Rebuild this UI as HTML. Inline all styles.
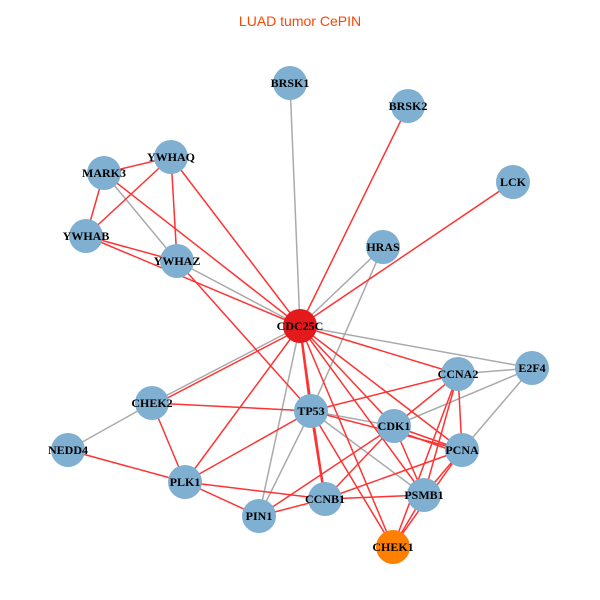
<!DOCTYPE html>
<html><head><meta charset="utf-8"><style>
body{margin:0;background:#fff}
svg{display:block}
text{font-family:"Liberation Serif",serif;font-weight:bold;font-size:12px;text-anchor:middle;dominant-baseline:central;fill:#000}
</style></head><body>
<svg width="600" height="600" xmlns="http://www.w3.org/2000/svg">
<rect width="600" height="600" fill="#fff"/>
<text x="300" y="21" style="font-family:'Liberation Sans',sans-serif;font-weight:normal;font-size:14px;fill:#ff4500">LUAD tumor CePIN</text>
<g stroke="#aaaaaa" stroke-width="1.5">
<line x1="290" y1="83" x2="300" y2="326"/>
<line x1="104" y1="173" x2="177" y2="261"/>
<line x1="177" y1="261" x2="300" y2="326"/>
<line x1="383" y1="247" x2="300" y2="326"/>
<line x1="383" y1="247" x2="311" y2="411"/>
<line x1="300" y1="326" x2="532" y2="368"/>
<line x1="300" y1="326" x2="152" y2="403"/>
<line x1="300" y1="326" x2="259" y2="516"/>
<line x1="458" y1="374" x2="532" y2="368"/>
<line x1="532" y1="368" x2="394" y2="426"/>
<line x1="532" y1="368" x2="462" y2="450"/>
<line x1="311" y1="411" x2="394" y2="426"/>
<line x1="311" y1="411" x2="424" y2="495"/>
<line x1="311" y1="411" x2="259" y2="516"/>
<line x1="152" y1="403" x2="68" y2="450"/>
</g>
<g stroke="#ff3333" stroke-width="1.5">
<line x1="104" y1="173" x2="171" y2="157"/>
<line x1="104" y1="173" x2="86" y2="236"/>
<line x1="104" y1="173" x2="300" y2="326"/>
<line x1="171" y1="157" x2="86" y2="236"/>
<line x1="171" y1="157" x2="177" y2="261"/>
<line x1="171" y1="157" x2="300" y2="326"/>
<line x1="86" y1="236" x2="177" y2="261"/>
<line x1="86" y1="236" x2="300" y2="326"/>
<line x1="177" y1="261" x2="311" y2="411"/>
<line x1="408" y1="106" x2="300" y2="326"/>
<line x1="513" y1="182" x2="300" y2="326"/>
<line x1="300" y1="326" x2="458" y2="374"/>
<line x1="300" y1="329" x2="152" y2="406"/>
<line x1="300" y1="326" x2="185" y2="482"/>
<line x1="300" y1="326" x2="311" y2="411" stroke-width="2.5"/>
<line x1="300" y1="326" x2="394" y2="426"/>
<line x1="300" y1="326" x2="462" y2="450"/>
<line x1="300" y1="326" x2="424" y2="495"/>
<line x1="300" y1="326" x2="393" y2="547"/>
<line x1="300" y1="326" x2="325" y2="499"/>
<line x1="458" y1="374" x2="311" y2="411"/>
<line x1="458" y1="374" x2="394" y2="426"/>
<line x1="458" y1="374" x2="462" y2="450"/>
<line x1="458" y1="374" x2="424" y2="495"/>
<line x1="458" y1="374" x2="393" y2="547"/>
<line x1="311" y1="411" x2="462" y2="450"/>
<line x1="311" y1="411" x2="325" y2="499" stroke-width="2.5"/>
<line x1="311" y1="411" x2="393" y2="547"/>
<line x1="311" y1="411" x2="185" y2="482"/>
<line x1="311" y1="411" x2="152" y2="403"/>
<line x1="394" y1="426" x2="462" y2="450"/>
<line x1="394" y1="430" x2="462" y2="454"/>
<line x1="394" y1="426" x2="259" y2="516"/>
<line x1="394" y1="426" x2="325" y2="499"/>
<line x1="394" y1="426" x2="424" y2="495"/>
<line x1="462" y1="450" x2="325" y2="499"/>
<line x1="462" y1="450" x2="424" y2="495"/>
<line x1="462" y1="450" x2="393" y2="547"/>
<line x1="424" y1="495" x2="325" y2="499"/>
<line x1="424" y1="495" x2="393" y2="547"/>
<line x1="325" y1="499" x2="259" y2="516"/>
<line x1="325" y1="499" x2="185" y2="482"/>
<line x1="185" y1="482" x2="259" y2="516"/>
<line x1="185" y1="482" x2="152" y2="403"/>
<line x1="185" y1="482" x2="68" y2="450"/>
</g>
<g fill="#7fafd1">
<circle cx="290" cy="83" r="17"/><circle cx="408" cy="106" r="17"/><circle cx="513" cy="182" r="17"/>
<circle cx="171" cy="157" r="17"/><circle cx="104" cy="173" r="17"/><circle cx="86" cy="236" r="17"/>
<circle cx="177" cy="261" r="17"/><circle cx="383" cy="247" r="17"/><circle cx="532" cy="368" r="17"/>
<circle cx="458" cy="374" r="17"/><circle cx="152" cy="403" r="17"/><circle cx="311" cy="411" r="17"/>
<circle cx="394" cy="426" r="17"/><circle cx="68" cy="450" r="17"/><circle cx="462" cy="450" r="17"/>
<circle cx="185" cy="482" r="17"/><circle cx="325" cy="499" r="17"/><circle cx="424" cy="495" r="17"/>
<circle cx="259" cy="516" r="17"/>
</g>
<circle cx="300" cy="326" r="17" fill="#e31a1c"/>
<circle cx="393" cy="547" r="17" fill="#ff7f00"/>
<text x="290" y="83">BRSK1</text><text x="408" y="106">BRSK2</text><text x="513" y="182">LCK</text>
<text x="171" y="157">YWHAQ</text><text x="104" y="173">MARK3</text><text x="86" y="236">YWHAB</text>
<text x="177" y="261">YWHAZ</text><text x="383" y="247">HRAS</text><text x="532" y="368">E2F4</text>
<text x="458" y="374">CCNA2</text><text x="152" y="403">CHEK2</text><text x="311" y="411">TP53</text>
<text x="394" y="426">CDK1</text><text x="68" y="450">NEDD4</text><text x="462" y="450">PCNA</text>
<text x="185" y="482">PLK1</text><text x="325" y="499">CCNB1</text><text x="424" y="495">PSMB1</text>
<text x="259" y="516">PIN1</text><text x="300" y="326">CDC25C</text><text x="393" y="547">CHEK1</text>
</svg>
</body></html>
